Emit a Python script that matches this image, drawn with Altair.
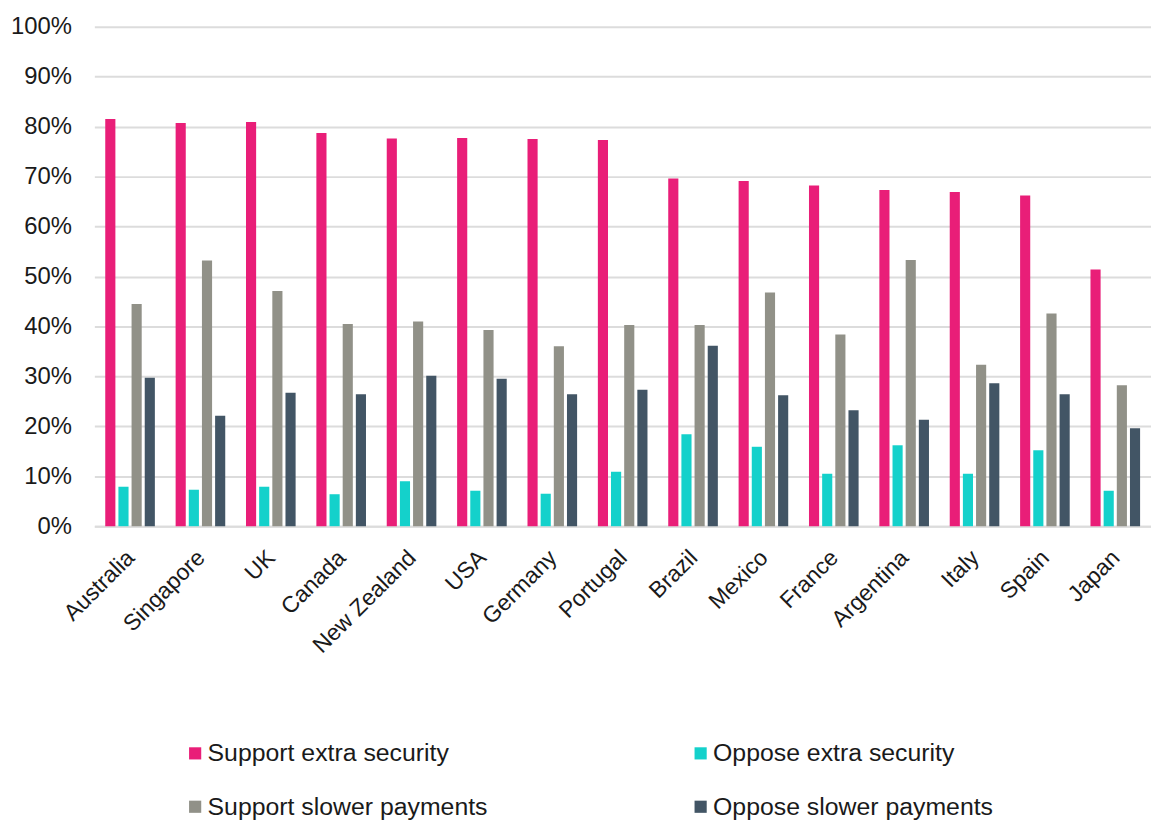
import altair as alt
import pandas as pd

# Survey results by country (share of respondents)
countries = ["Australia", "Singapore", "UK", "Canada", "New Zealand", "USA", "Germany",
             "Portugal", "Brazil", "Mexico", "France", "Argentina", "Italy", "Spain", "Japan"]

support_extra_security = [81.5, 80.7, 80.9, 78.7, 77.6, 77.7, 77.5, 77.3, 69.6, 69.1, 68.2, 67.3, 66.9, 66.2, 51.4]
oppose_extra_security = [7.9, 7.3, 7.9, 6.4, 9.0, 7.1, 6.5, 10.9, 18.4, 15.9, 10.5, 16.2, 10.5, 15.2, 7.1]
support_slower_payments = [44.5, 53.2, 47.1, 40.5, 41.0, 39.3, 36.0, 40.3, 40.3, 46.8, 38.4, 53.3, 32.3, 42.6, 28.2]
oppose_slower_payments = [29.7, 22.1, 26.7, 26.4, 30.1, 29.5, 26.4, 27.3, 36.1, 26.2, 23.2, 21.3, 28.6, 26.4, 19.6]

series_names = ["Support extra security", "Oppose extra security",
                "Support slower payments", "Oppose slower payments"]
series_colors = ["#E91E78", "#14D1CB", "#919188", "#425565"]
y_ticks = [i / 10 for i in range(11)]

series_values = [support_extra_security, oppose_extra_security,
                 support_slower_payments, oppose_slower_payments]

rows = []
for name, values in zip(series_names, series_values):
    for country, v in zip(countries, values):
        rows.append({"country": country, "series": name, "value": v / 100})
df = pd.DataFrame(rows)

chart = alt.Chart(df).mark_bar().encode(
    x=alt.X(
        "country:N",
        sort=countries,
        title=None,
        scale=alt.Scale(paddingInner=0.295, paddingOuter=0.155),
        axis=alt.Axis(
            labelAngle=-45,
            labelFontSize=23,
            labelFont="Liberation Sans",
            labelColor="#1a1a1a",
            labelPadding=20,
            labelOffset=-7,
            ticks=False,
            domain=True,
            domainColor="#dcdcdc",
            domainWidth=2,
        ),
    ),
    xOffset=alt.XOffset(
        "series:N",
        sort=series_names,
        scale=alt.Scale(paddingInner=0.23, paddingOuter=0),
    ),
    y=alt.Y(
        "value:Q",
        title=None,
        scale=alt.Scale(domain=[0, 1], nice=False),
        axis=alt.Axis(
            values=y_ticks,
            format=".0%",
            labelFontSize=24,
            labelFont="Liberation Sans",
            labelColor="#1a1a1a",
            labelPadding=23,
            ticks=False,
            domain=False,
            gridColor="#dcdcdc",
            gridWidth=2,
        ),
    ),
    color=alt.Color(
        "series:N",
        sort=series_names,
        scale=alt.Scale(domain=series_names, range=series_colors),
        legend=alt.Legend(
            title=None,
            orient="none",
            legendX=89,
            legendY=719,
            direction="horizontal",
            columns=2,
            columnPadding=201,
            rowPadding=28,
            symbolType="square",
            symbolSize=150,
            symbolStrokeWidth=0,
            labelFontSize=25,
            labelFont="Liberation Sans",
            labelColor="#1a1a1a",
            labelOffset=0,
            labelLimit=400,
        ),
    ),
).properties(
    width=1064,
    height=503,
    autosize=alt.AutoSizeParams(type="none"),
    padding={"left": 95, "top": 24, "right": 0, "bottom": 295},
).configure_view(stroke=None)

chart.save("out.html", embed_options={"renderer": "svg", "actions": False})
